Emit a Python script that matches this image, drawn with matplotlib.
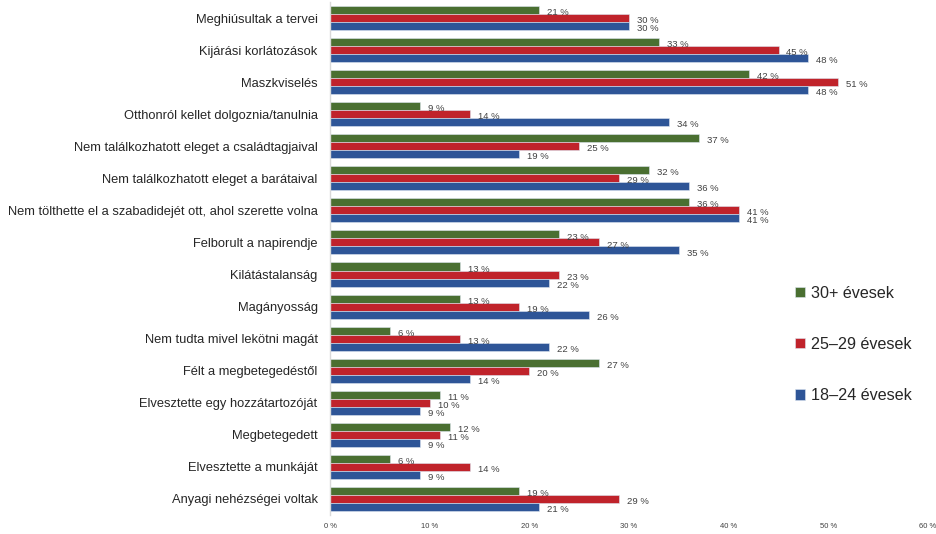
import numpy as np
import matplotlib
matplotlib.use("Agg")
from matplotlib import pyplot as plt

categories = ["Meghiúsultak a tervei",
              "Kijárási korlátozások",
              "Maszkviselés",
              "Otthonról kellet dolgoznia/tanulnia",
              "Nem találkozhatott eleget a családtagjaival",
              "Nem találkozhatott eleget a barátaival",
              "Nem tölthette el a szabadidejét ott, ahol szerette volna",
              "Felborult a napirendje",
              "Kilátástalanság",
              "Magányosság",
              "Nem tudta mivel lekötni magát",
              "Félt a megbetegedéstől",
              "Elvesztette egy hozzátartozóját",
              "Megbetegedett",
              "Elvesztette a munkáját",
              "Anyagi nehézségei voltak"]

age_30plus = [21, 33, 42, 9, 37, 32, 36, 23, 13, 13, 6, 27, 11, 12, 6, 19]
age_25_29  = [30, 45, 51, 14, 25, 29, 41, 27, 23, 19, 13, 20, 10, 11, 14, 29]
age_18_24  = [30, 48, 48, 34, 19, 36, 41, 35, 22, 26, 22, 14, 9, 9, 9, 21]

series_names = ["30+ évesek", "25\u201329 évesek", "18\u201324 évesek"]
colors = ["#4a6f31", "#c0232b", "#2e5597"]

plt.rcParams['font.family'] = ['Liberation Sans', 'DejaVu Sans']

fig = plt.figure(figsize=[9.37, 5.34], dpi=100)
ax = fig.add_axes([0.3522, 0.0356, 0.6382, 0.9607])

y = np.arange(len(categories))
h = 0.25
bars = []
for k, (vals, col) in enumerate(zip([age_30plus, age_25_29, age_18_24], colors)):
    yy = y + (k - 1) * h
    b = ax.barh(yy, vals, height=h, color=col, edgecolor="#dde6f0", linewidth=0.4,
                label=series_names[k])
    bars.append(b)
    # data labels
    for v, yv in zip(vals, yy):
        ax.text(v + 0.8, yv + 0.08, "%d %%" % v, fontsize=6.8, color="#404040",
                va="center", ha="left")

ax.set_xlim(0, 60)
ax.set_ylim(len(categories) - 0.5, -0.5)
ax.set_yticks(y)
ax.set_yticklabels(categories, fontsize=9.3, color="#262626")
ax.set_xticks(np.arange(0, 61, 10))
ax.set_xticklabels(["%d %%" % t for t in range(0, 61, 10)], fontsize=5.5, color="#404040")
ax.tick_params(axis="both", length=0)
ax.tick_params(axis="y", pad=9)
ax.tick_params(axis="x", pad=6)
for s in ["top", "right", "bottom"]:
    ax.spines[s].set_visible(False)
ax.spines["left"].set_color("#d9d9d9")
ax.spines["left"].set_linewidth(1.0)

fig.legend(handles=bars, labels=series_names, loc="upper left",
           bbox_to_anchor=(0.833, 0.492), frameon=False, fontsize=11.6,
           labelspacing=2.25, handlelength=0.6, handleheight=0.6, handletextpad=0.4,
           labelcolor="#262626")

plt.savefig("out.png", dpi=100)
